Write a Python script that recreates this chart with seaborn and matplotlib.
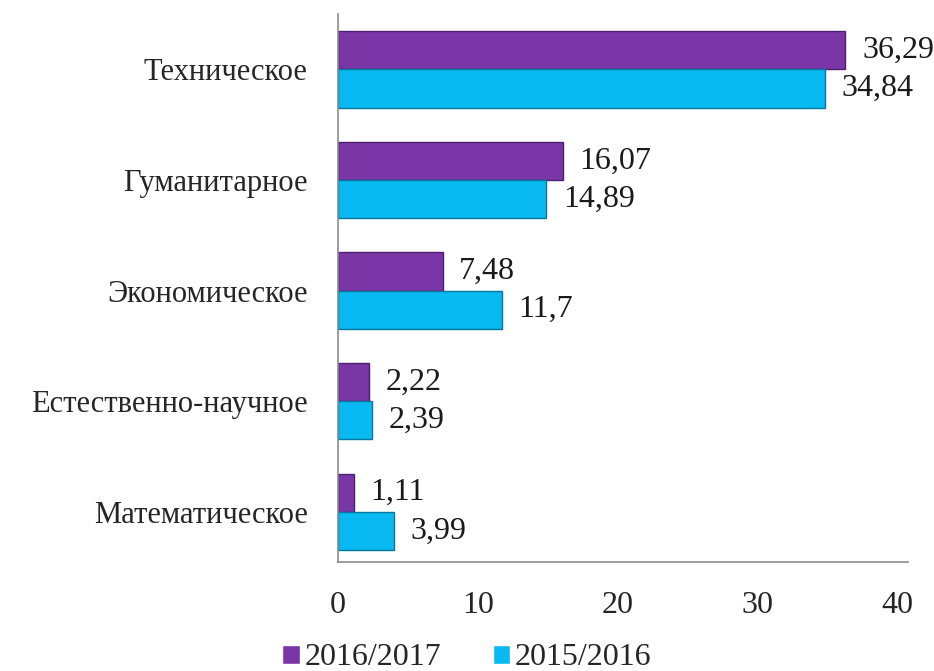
import matplotlib.pyplot as plt
import seaborn as sns
import pandas as pd

# data
categories = ["Техническое", "Гуманитарное", "Экономическое", "Естественно-научное", "Математическое"]
vals_2016 = [36.29, 16.07, 7.48, 2.22, 1.11]
vals_2015 = [34.84, 14.89, 11.7, 2.39, 3.99]
labels_2016 = ["36,29", "16,07", "7,48", "2,22", "1,11"]
labels_2015 = ["34,84", "14,89", "11,7", "2,39", "3,99"]
years = ["2016/2017", "2015/2016"]

df = pd.DataFrame({
    "cat": categories * 2,
    "val": vals_2016 + vals_2015,
    "year": [years[0]] * 5 + [years[1]] * 5,
})

sns.set_style("white")
plt.rcParams["font.family"] = ["Liberation Serif", "DejaVu Serif"]

fig, ax = plt.subplots(figsize=(9.34, 6.71), dpi=100)
pal = {years[0]: "#7A35A6", years[1]: "#08B9F2"}
sns.barplot(data=df, x="val", y="cat", hue="year", order=categories, hue_order=years,
            palette=pal, orient="h", width=0.69, saturation=1, ax=ax)

# edges like the bevelled bars
for cont, ec in zip(ax.containers, ["#4E1F70", "#05779C"]):
    for p in cont:
        p.set_edgecolor(ec)
        p.set_linewidth(1.0)

for cont, labs in zip(ax.containers, [labels_2016, labels_2015]):
    ax.bar_label(cont, labels=labs, padding=12, fontsize=23, color="#1a1a1a")

ax.set_xlim(0, 40.75)
ax.set_ylim(4.45, -0.5)
ax.set_xticks([0, 10, 20, 30, 40])
ax.set_xlabel("")
ax.set_ylabel("")
ax.tick_params(axis="x", labelsize=23, pad=21, length=0)
ax.tick_params(axis="y", labelsize=22, pad=22, length=0)
for s in ["top", "right"]:
    ax.spines[s].set_visible(False)
for s in ["left", "bottom"]:
    ax.spines[s].set_color("#8c8c8c")
    ax.spines[s].set_linewidth(1.2)

h, l = ax.get_legend_handles_labels()
ax.get_legend().remove()
fig.legend(h, l, loc="lower center", bbox_to_anchor=(0.5, -0.045), ncol=2, frameon=False,
           fontsize=23, handlelength=0.55, handleheight=0.55, handletextpad=0.15, columnspacing=1.6)

fig.subplots_adjust(left=0.362, right=0.972, top=0.979, bottom=0.163)
fig.savefig("out.png", dpi=100)
